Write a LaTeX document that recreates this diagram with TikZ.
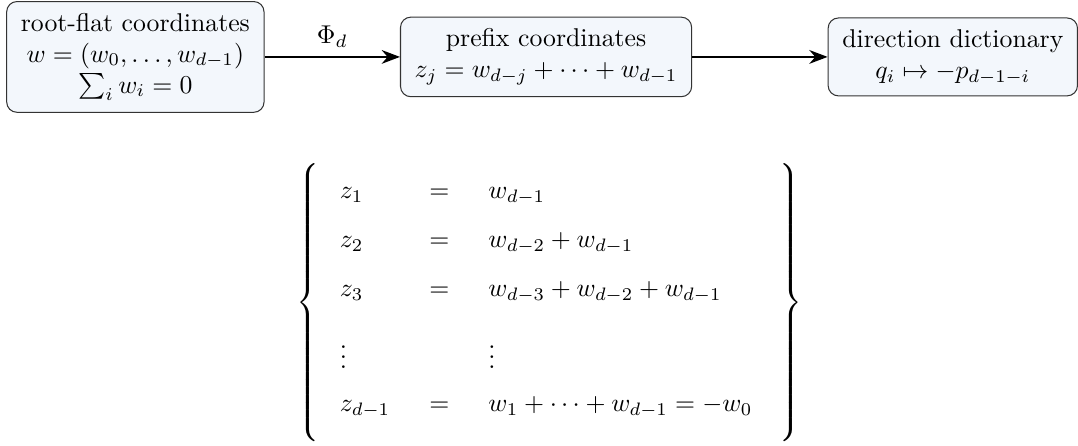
\documentclass[tikz,border=0pt]{standalone}
\usepackage{amsmath,amssymb}
\usetikzlibrary{arrows.meta,positioning,matrix}
\definecolor{boxfill}{RGB}{243,247,252}

\begin{document}
\begin{tikzpicture}[>={Stealth[length=2.5mm]}, node distance=1.85cm,
  stage/.style={draw=black!80, fill=boxfill, rounded corners=4pt, align=center, inner xsep=5.5pt, inner ysep=4.5pt},
  every right delimiter/.style={xshift=2.5pt}]
  \node[stage] (flat) {root-flat coordinates\\ $w=(w_0,\dots,w_{d-1})$\\ $\sum_i w_i=0$};
  \node[stage, right=of flat] (prefix) {prefix coordinates\\ $z_j=w_{d-j}+\cdots+w_{d-1}$};
  \node[stage, right=of prefix] (dict) {direction dictionary\\ $q_i\mapsto -p_{d-1-i}$};
  \draw[->, thick] (flat) -- node[above] {$\Phi_d$} (prefix);
  \draw[->, thick] (prefix) -- (dict);
  \matrix (sys) [matrix of math nodes, below=0.9cm of prefix, inner ysep=6pt,
    nodes={inner sep=.3333em}, left delimiter=\{, right delimiter=\},
    column sep=3mm, row sep=1.45mm,
    column 1/.style={anchor=base west}, column 2/.style={anchor=base},
    column 3/.style={anchor=base west}]
  {
    z_1 & = & w_{d-1} \\
    z_2 & = & w_{d-2}+w_{d-1} \\
    z_3 & = & w_{d-3}+w_{d-2}+w_{d-1} \\
    \vdots & & \vdots \\
    z_{d-1} & = & w_1+\cdots+w_{d-1}=-w_0 \\
  };
  \useasboundingbox ([xshift=-2.4pt,yshift=0.4pt]flat.north west) rectangle ([yshift=-1.2pt]dict.east |- sys.south);
\end{tikzpicture}
\end{document}
